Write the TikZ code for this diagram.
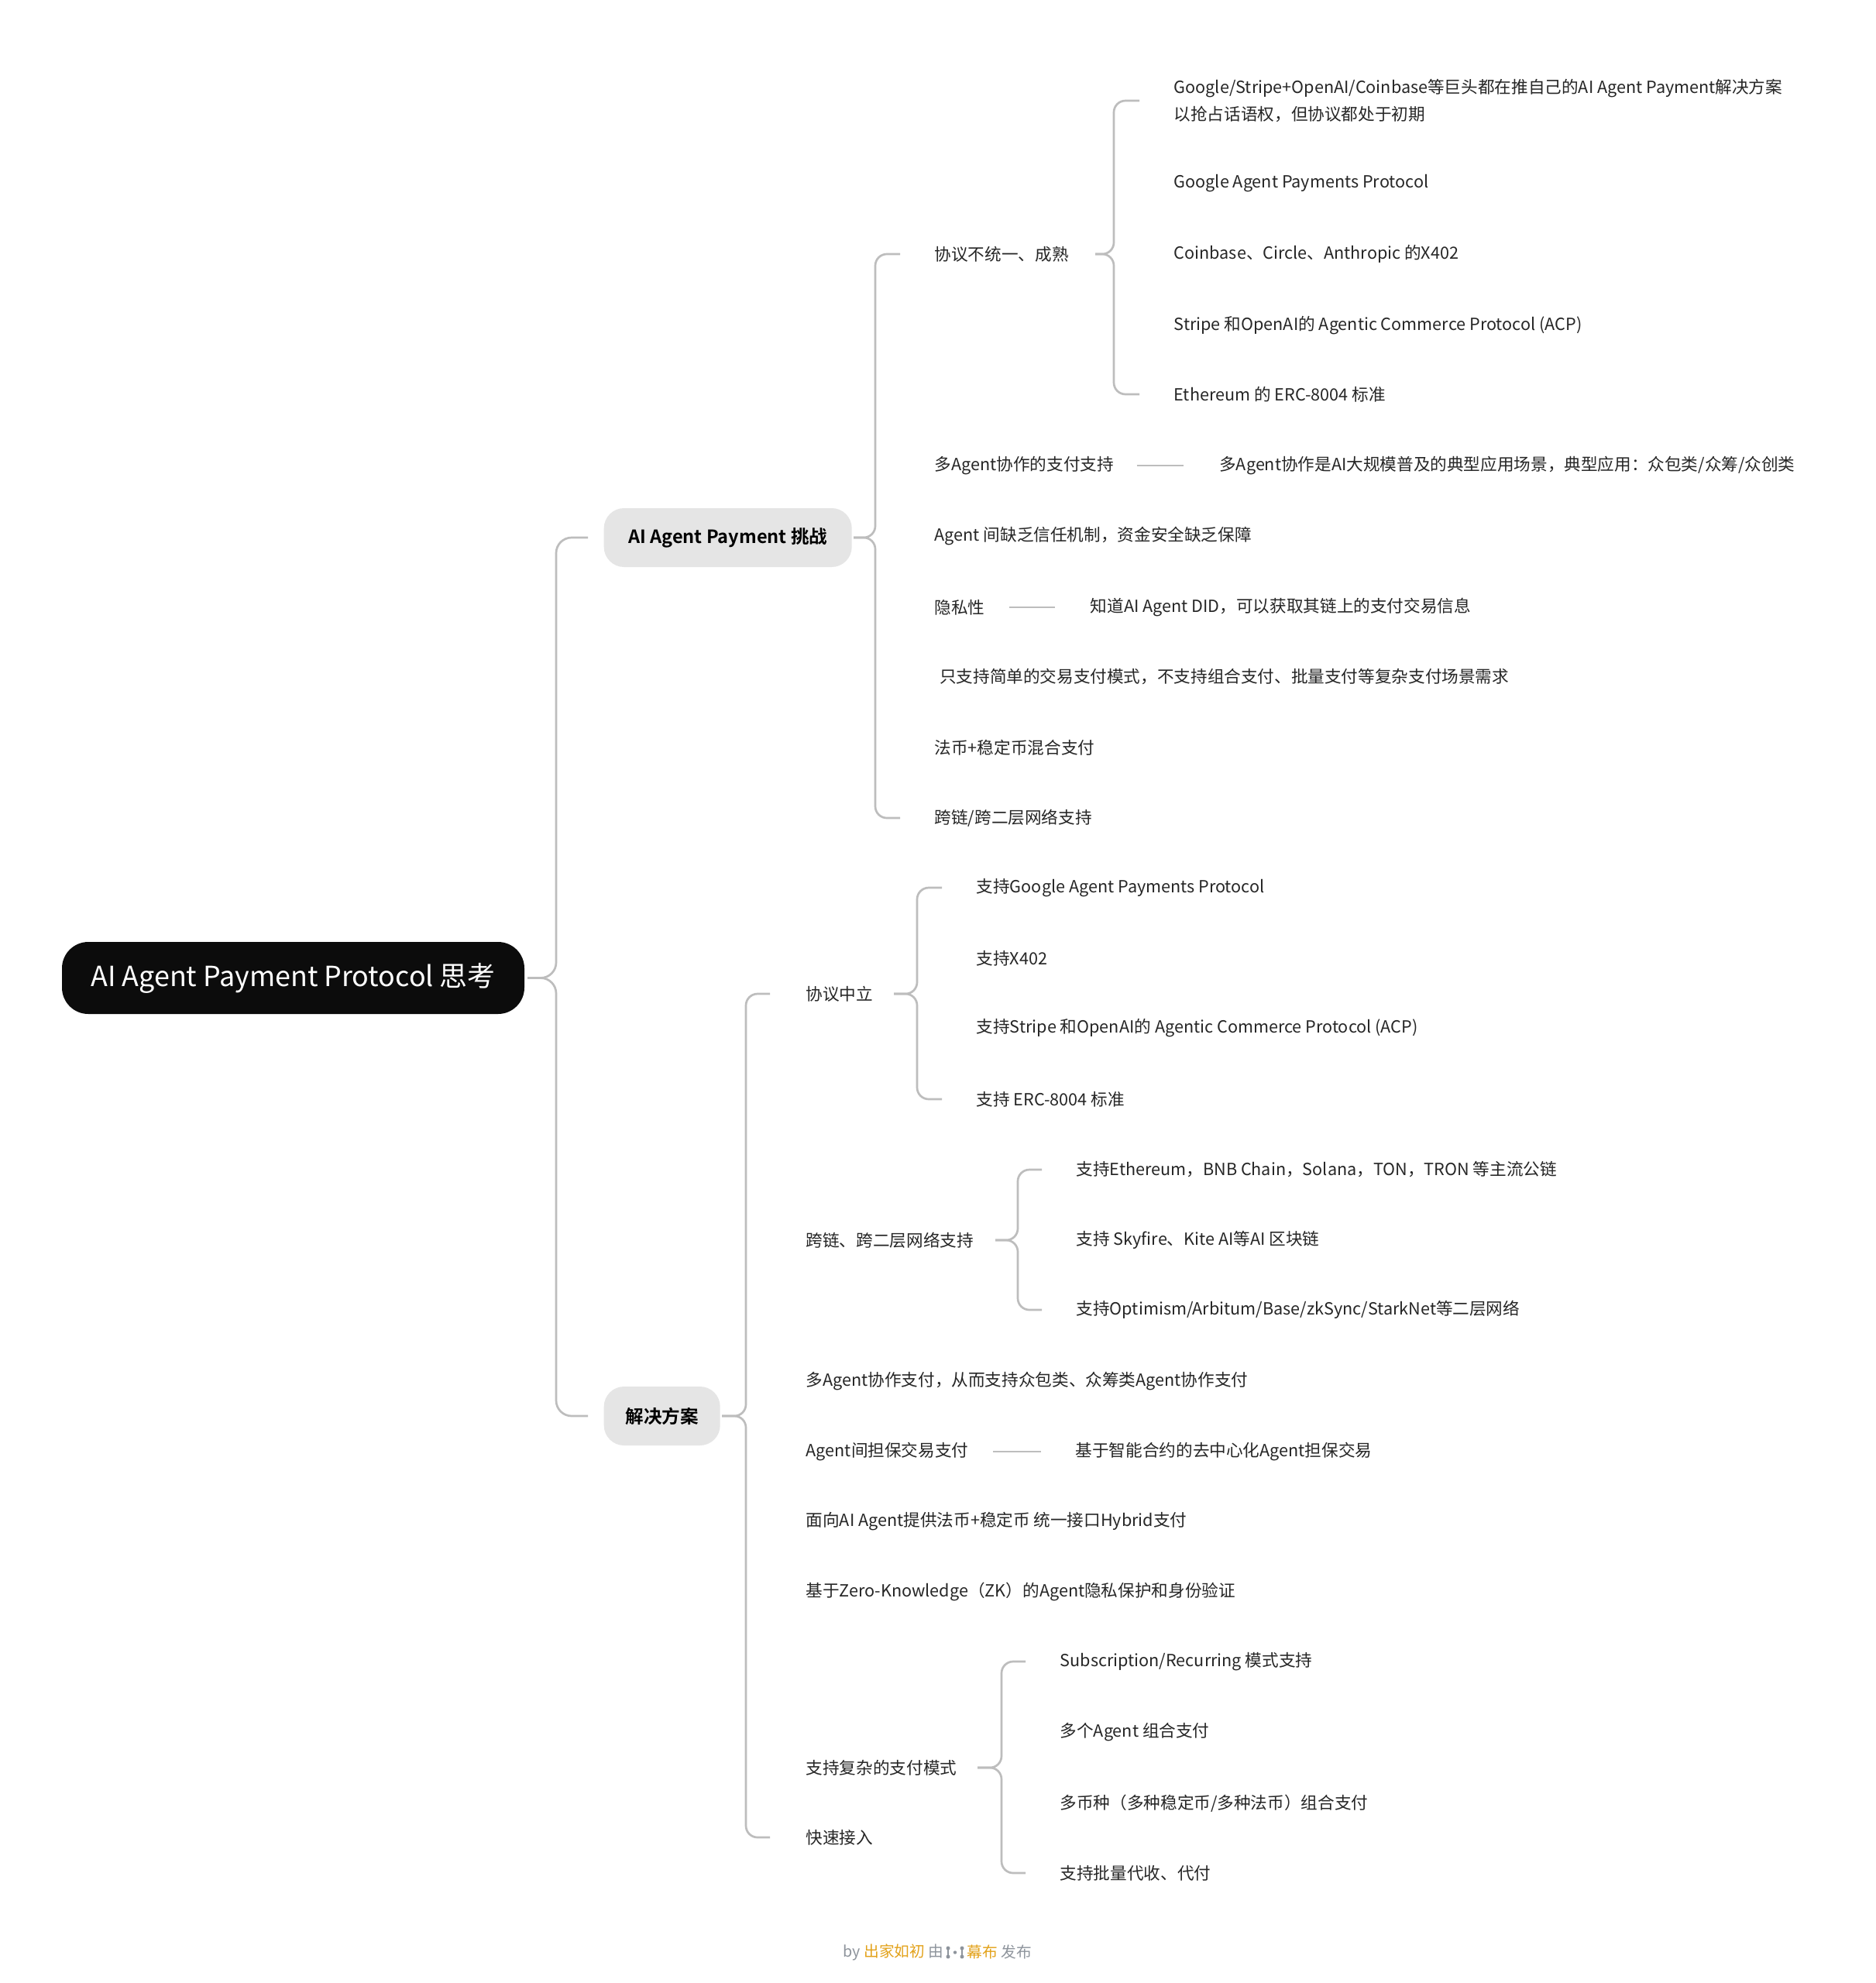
\documentclass[tikz,border=0pt]{standalone}
\usepackage{fontspec}
\setmainfont{Noto Sans CJK SC}[BoldFont={Noto Sans CJK SC Bold}]
\usetikzlibrary{positioning}

\definecolor{rootblack}{HTML}{0C0C0C}
\definecolor{boxgray}{HTML}{E5E5E5}
\definecolor{linegray}{HTML}{BDBDBD}
\definecolor{textdark}{HTML}{262626}
\definecolor{footgray}{HTML}{8E949C}
\definecolor{footorange}{HTML}{E3A21A}

\begin{document}
\begin{tikzpicture}[
  rootbox/.style={rectangle, rounded corners=0.34cm, fill=rootblack, text=white,
    minimum width=5.97cm, minimum height=0.93cm, font=\fontsize{10.2}{12}\selectfont},
  topicbox/.style={rectangle, rounded corners=0.26cm, fill=boxgray, text=black,
    anchor=west, minimum height=0.76cm, inner xsep=0.25cm, font=\fontsize{6.7}{8}\selectfont\bfseries},
  leaf/.style={anchor=west, inner sep=0pt, text=textdark, align=left,
    font=\fontsize{6.15}{9.7}\selectfont},
  link/.style={draw=linegray, line width=0.027cm, rounded corners=0.15cm},
  rootlink/.style={link, rounded corners=0.2cm},
  dashlink/.style={draw=linegray, line width=0.027cm},
  footnote/.style={inner sep=0pt, text=footgray, font=\fontsize{5.6}{7}\selectfont},
]

\fill[white] (0,0) rectangle (24.21,-25.60);
\useasboundingbox (0,0) rectangle (24.21,-25.60);

% Horizontal positions (tip, vertical line, stub end) per branch
\def\rootT{6.81}  \def\rootV{7.18}  \def\rootS{7.59}
\def\chT{11.02}   \def\chV{11.30}   \def\chS{11.62}
\def\aT{14.14}    \def\aV{14.38}    \def\aS{14.71}
\def\solT{9.32}   \def\solV{9.63}   \def\solS{9.94}
\def\sT{11.54}    \def\sV{11.84}    \def\sS{12.16}
\def\qT{12.85}    \def\qV{13.14}    \def\qS{13.45}
\def\rT{12.62}    \def\rV{12.93}    \def\rS{13.24}

% ============================================================
% Root and main topics
% ============================================================
\node[rootbox] (root) at (3.785,-12.625) {AI Agent Payment Protocol 思考};

\node[topicbox, minimum width=3.2cm] (ch) at (7.79,-6.94) {AI Agent Payment 挑战};
\node[topicbox, minimum width=1.5cm] (sol) at (7.79,-18.28) {解决方案};

% brace: only the outer children get a curl
\draw[rootlink] (root.east -| \rootT,0) -| (ch.west -| \rootV,0) -- (ch.west -| \rootS,0);
\draw[rootlink] (root.east -| \rootT,0) -| (sol.west -| \rootV,0) -- (sol.west -| \rootS,0);

% ============================================================
% Challenges
% ============================================================
\node[leaf] (a1) at (12.06,-3.28) {协议不统一、成熟};
\node[leaf] (a2) at (12.06,-6.01) {多Agent协作的支付支持};
\node[leaf, right=1.35cm of a2] (a2x) {多Agent协作是AI大规模普及的典型应用场景，典型应用：众包类/众筹/众创类};
\node[leaf] (a3) at (12.06,-6.92) {Agent 间缺乏信任机制，资金安全缺乏保障};
\node[leaf] (a4) at (12.06,-7.84) {隐私性};
\node[leaf, right=1.35cm of a4] (a4x) {知道AI Agent DID，可以获取其链上的支付交易信息};
\node[leaf] (a5) at (12.06,-8.73) {\hspace*{0.065cm}只支持简单的交易支付模式，不支持组合支付、批量支付等复杂支付场景需求};
\node[leaf] (a6) at (12.06,-9.65) {法币+稳定币混合支付};
\node[leaf] (a7) at (12.06,-10.56) {跨链/跨二层网络支持};

\draw[link] (ch.east -| \chT,0) -| (a1.west -| \chV,0) -- (a1.west -| \chS,0);
\draw[link] (ch.east -| \chT,0) -| (a7.west -| \chV,0) -- (a7.west -| \chS,0);

\draw[dashlink] ([xshift=0.29cm]a2.east) -- ([xshift=-0.46cm]a2x.west);
\draw[dashlink] ([xshift=0.31cm]a4.east) -- ([xshift=-0.45cm]a4x.west);

% Protocols
\node[leaf] (b1) at (15.15,-1.30) {Google/Stripe+OpenAI/Coinbase等巨头都在推自己的AI Agent Payment解决方案\\以抢占话语权，但协议都处于初期};
\node[leaf] (b2) at (15.15,-2.37) {Google Agent Payments Protocol};
\node[leaf] (b3) at (15.15,-3.28) {Coinbase、Circle、Anthropic 的X402};
\node[leaf] (b4) at (15.15,-4.20) {Stripe 和OpenAI的 Agentic Commerce Protocol (ACP)};
\node[leaf] (b5) at (15.15,-5.09) {Ethereum 的 ERC-8004 标准};

\draw[link] (a1.east -| \aT,0) -| (b1.west -| \aV,0) -- (b1.west -| \aS,0);
\draw[link] (a1.east -| \aT,0) -| (b5.west -| \aV,0) -- (b5.west -| \aS,0);

% ============================================================
% Solutions
% ============================================================
\node[leaf] (s1) at (10.40,-12.83) {协议中立};
\node[leaf] (s2) at (10.40,-16.01) {跨链、跨二层网络支持};
\node[leaf] (s3) at (10.40,-17.83) {多Agent协作支付，从而支持众包类、众筹类Agent协作支付};
\node[leaf] (s4) at (10.40,-18.74) {Agent间担保交易支付};
\node[leaf, right=1.37cm of s4] (s4x) {基于智能合约的去中心化Agent担保交易};
\node[leaf] (s5) at (10.40,-19.64) {面向AI Agent提供法币+稳定币 统一接口Hybrid支付};
\node[leaf] (s6) at (10.40,-20.55) {基于Zero-Knowledge（ZK）的Agent隐私保护和身份验证};
\node[leaf] (s7) at (10.40,-22.82) {支持复杂的支付模式};
\node[leaf] (s8) at (10.40,-23.72) {快速接入};

\draw[link] (sol.east -| \solT,0) -| (s1.west -| \solV,0) -- (s1.west -| \solS,0);
\draw[link] (sol.east -| \solT,0) -| (s8.west -| \solV,0) -- (s8.west -| \solS,0);

\draw[dashlink] ([xshift=0.31cm]s4.east) -- ([xshift=-0.44cm]s4x.west);

% Neutral protocol support
\node[leaf] (p1) at (12.60,-11.46) {支持Google Agent Payments Protocol};
\node[leaf] (p2) at (12.60,-12.37) {支持X402};
\node[leaf] (p3) at (12.60,-13.27) {支持Stripe 和OpenAI的 Agentic Commerce Protocol (ACP)};
\node[leaf] (p4) at (12.60,-14.19) {支持 ERC-8004 标准};

\draw[link] (s1.east -| \sT,0) -| (p1.west -| \sV,0) -- (p1.west -| \sS,0);
\draw[link] (s1.east -| \sT,0) -| (p4.west -| \sV,0) -- (p4.west -| \sS,0);

% Chains
\node[leaf] (q1) at (13.89,-15.10) {支持Ethereum，BNB Chain，Solana，TON，TRON 等主流公链};
\node[leaf] (q2) at (13.89,-16.01) {支持 Skyfire、Kite AI等AI 区块链};
\node[leaf] (q3) at (13.89,-16.91) {支持Optimism/Arbitum/Base/zkSync/StarkNet等二层网络};

\draw[link] (s2.east -| \qT,0) -| (q1.west -| \qV,0) -- (q1.west -| \qS,0);
\draw[link] (s2.east -| \qT,0) -| (q3.west -| \qV,0) -- (q3.west -| \qS,0);

% Payment modes
\node[leaf] (r1) at (13.68,-21.45) {Subscription/Recurring 模式支持};
\node[leaf] (r2) at (13.68,-22.36) {多个Agent 组合支付};
\node[leaf] (r3) at (13.68,-23.28) {多币种（多种稳定币/多种法币）组合支付};
\node[leaf] (r4) at (13.68,-24.18) {支持批量代收、代付};

\draw[link] (s7.east -| \rT,0) -| (r1.west -| \rV,0) -- (r1.west -| \rS,0);
\draw[link] (s7.east -| \rT,0) -| (r4.west -| \rV,0) -- (r4.west -| \rS,0);

% ============================================================
% Footer
% ============================================================
\node[footnote, anchor=east] (byline) at (12.19,-25.20) {by \textcolor{footorange}{出家如初} 由};
\node[footnote, anchor=west] (publine) at (12.48,-25.20) {\textcolor{footorange}{幕布} 发布};
\draw[footgray, line width=0.02cm] (12.24,-25.15) -- (12.24,-25.26) (12.42,-25.15) -- (12.42,-25.26);
\fill[footgray] (12.24,-25.15) circle (0.025) (12.24,-25.26) circle (0.025)
  (12.33,-25.205) circle (0.022) (12.42,-25.15) circle (0.025) (12.42,-25.26) circle (0.025);

\end{tikzpicture}
\end{document}
